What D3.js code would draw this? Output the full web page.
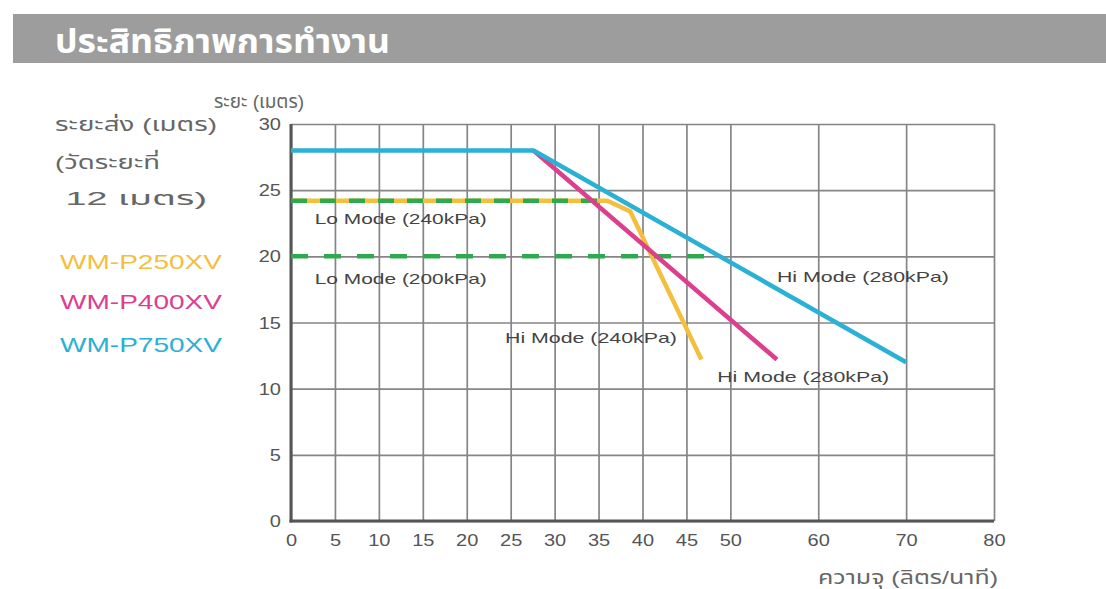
<!DOCTYPE html>
<html><head><meta charset="utf-8">
<script src="https://cdn.jsdelivr.net/npm/d3@7/dist/d3.min.js"></script>
<style>
body{margin:0;background:#fff}
text{font-family:"Liberation Sans",Arial,"Noto Sans Thai","Noto Sans",sans-serif}
</style>
</head><body>
<svg id="c" width="1106" height="589"></svg>
<script>
// ---- data ----
const xTicks = [0,5,10,15,20,25,30,35,40,45,50,60,70,80];
const yTicks = [0,5,10,15,20,25,30];
const models = ["WM-P250XV","WM-P400XV","WM-P750XV"];
const modelColors = ["#f4bf3f","#dc3f8e","#2bb0d6"];
// [flow (L/min), distance (m)]
const p250 = [[0,24.2],[36,24.2],[38.6,23.4],[46.7,12.2]];
const p400 = [[27.6,28],[55.3,12.2]];
const p750 = [[0,28],[27.6,28],[70,12]];
const lo240 = [[0,24.2],[36,24.2]];
const lo200 = [[0,20],[48.5,20]];
const annotations = [
  {text:"Lo Mode (240kPa)", x:2.7, y:22.45},
  {text:"Lo Mode (200kPa)", x:2.7, y:17.9},
  {text:"Hi Mode (240kPa)", x:24.35, y:13.45},
  {text:"Hi Mode (280kPa)", x:48.5, y:10.5},
  {text:"Hi Mode (280kPa)", x:55.3, y:18.05}
];
const title = "ประสิทธิภาพการทำงาน";
const sideNote = ["ระยะส่ง (เมตร)","(วัดระยะที่"," 12 เมตร)"];
const yTitle = "ระยะ (เมตร)";
const xTitle = "ความจุ (ลิตร/นาที)";

// ---- drawing ----
const svg = d3.select("#c");
const L=291, R=994, T=124, B=521;
const x = d3.scaleLinear().domain([0,80]).range([L,R]);
const y = d3.scaleLinear().domain([0,30]).range([B,T]);

function txt(str, px, py, o){
  const t = svg.append("text").attr("x",px).attr("y",py).text(str)
    .attr("font-size",o.size).attr("fill",o.fill||"#555")
    .attr("text-anchor",o.anchor||"start");
  if(o.weight) t.attr("font-weight",o.weight);
  if(o.len) t.attr("textLength",o.len).attr("lengthAdjust","spacingAndGlyphs");
  return t;
}

// header bar
svg.append("rect").attr("x",13).attr("y",14).attr("width",1093).attr("height",49).attr("fill","#9d9d9d");
txt(title,55,53,{size:34,fill:"#fff",weight:"bold",len:335});

// grid
const gridColor="#858585";
svg.append("g").attr("transform",`translate(0,${B})`)
  .call(d3.axisBottom(x).tickValues(xTicks).tickSize(-(B-T)).tickFormat(""))
  .call(g=>{g.select(".domain").remove();g.selectAll("line").attr("stroke",gridColor).attr("stroke-width",1.7);});
svg.append("g").attr("transform",`translate(${L},0)`)
  .call(d3.axisLeft(y).tickValues(yTicks).tickSize(-(R-L)).tickFormat(""))
  .call(g=>{g.select(".domain").remove();g.selectAll("line").attr("stroke",gridColor).attr("stroke-width",1.7);});

// main axes (thick)
svg.append("line").attr("x1",x(0)).attr("x2",x(0)).attr("y1",y(30)).attr("y2",y(0)+1.5).attr("stroke","#555").attr("stroke-width",3);
svg.append("line").attr("x1",x(0)-1.5).attr("x2",x(80)).attr("y1",y(0)).attr("y2",y(0)).attr("stroke","#555").attr("stroke-width",3);

// tick labels via axes
const sx=1.25;
svg.append("g").attr("transform",`translate(0,${B})`)
  .call(d3.axisBottom(x).tickValues(xTicks).tickSize(0).tickFormat(d3.format("d")))
  .call(g=>{g.select(".domain").remove();
    g.selectAll("text").attr("y",0).attr("dy",0).attr("transform",`translate(0,25) scale(${sx},1)`)
     .attr("font-size",16).attr("fill","#555").attr("font-family",null);});
svg.append("g").attr("transform",`translate(${L},0)`)
  .call(d3.axisLeft(y).tickValues(yTicks).tickSize(0).tickFormat(d3.format("d")))
  .call(g=>{g.select(".domain").remove();
    g.selectAll("text").attr("x",0).attr("dy","0.35em").attr("transform",`translate(-10,0) scale(${sx},1)`)
     .attr("font-size",16).attr("fill","#555").attr("font-family",null);});

// series
const line = d3.line().x(d=>x(d[0])).y(d=>y(d[1]));
const lw=4.5;
svg.append("path").datum(p250).attr("d",line).attr("fill","none").attr("stroke",modelColors[0]).attr("stroke-width",lw).attr("stroke-linejoin","round");
svg.append("path").datum(lo240).attr("d",line).attr("fill","none").attr("stroke","#2eaa4e").attr("stroke-width",lw).attr("stroke-dasharray","16 13");
svg.append("path").datum(lo200).attr("d",line).attr("fill","none").attr("stroke","#2eaa4e").attr("stroke-width",lw).attr("stroke-dasharray","17 16");
svg.append("path").datum(p400).attr("d",line).attr("fill","none").attr("stroke",modelColors[1]).attr("stroke-width",lw).attr("stroke-linejoin","round");
svg.append("path").datum(p750).attr("d",line).attr("fill","none").attr("stroke",modelColors[2]).attr("stroke-width",lw).attr("stroke-linejoin","round");

// annotations
annotations.forEach(a=>txt(a.text,x(a.x),y(a.y),{size:15,fill:"#444",len:172}));

// side notes
const sideY=[131,169,205];
sideNote.forEach((s,i)=>txt(s,55,sideY[i],{size:19,fill:"#666",len:[162,105,152][i]}).attr("xml:space","preserve"));
// legend
const legY=[269,309,352];
models.forEach((m,i)=>txt(m,60,legY[i],{size:21,fill:modelColors[i],len:162}));

// axis titles
txt(yTitle,214,108,{size:19,fill:"#666",len:90});
txt(xTitle,818,584,{size:19,fill:"#666",len:180});
</script>
</body></html>
